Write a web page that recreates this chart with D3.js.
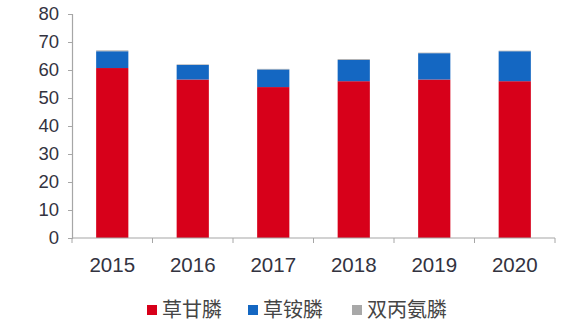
<!DOCTYPE html>
<html>
<head>
<meta charset="utf-8">
<script src="https://cdn.jsdelivr.net/npm/d3@7/dist/d3.min.js"></script>
<style>
  html, body { margin: 0; padding: 0; background: #ffffff; }
  svg { display: block; font-family: "Liberation Sans", Arial, "Noto Sans CJK SC", sans-serif; }
</style>
</head>
<body>
<svg id="chart" width="572" height="336"></svg>
<script>
// Annual output by product (万吨)
const years = ["2015", "2016", "2017", "2018", "2019", "2020"];
const glyphosate   = [60.7, 56.6, 53.9, 56.0, 56.6, 56.0]; // 草甘膦
const glufosinate  = [6.0, 5.2, 6.3, 7.6, 9.4, 10.7];     // 草铵膦
const bialaphos    = [0.3, 0.2, 0.2, 0.3, 0.2, 0.2];      // 双丙氨膦
const seriesNames  = ["草甘膦", "草铵膦", "双丙氨膦"];
const yTicks       = [0, 10, 20, 30, 40, 50, 60, 70, 80];

const colors = ["#d7001a", "#1467c2", "#a8a8a8"];

const rows = years.map((y, i) => ({
  year: y,
  "草甘膦": glyphosate[i],
  "草铵膦": glufosinate[i],
  "双丙氨膦": bialaphos[i]
}));
const stacked = d3.stack().keys(seriesNames)(rows);

const svg = d3.select("#chart");
const margin = { left: 72, right: 17, top: 14, bottom: 98 };
const W = 572, H = 336;

const x = d3.scaleBand().domain(years)
  .range([margin.left, W - margin.right])
  .paddingInner(0.6).paddingOuter(0.3);
const y = d3.scaleLinear().domain([0, 80])
  .range([H - margin.bottom, margin.top]);

const axisColor = "#a6a6a6";
const textColor = "#33333f";

// bars
svg.append("g").selectAll("g").data(stacked).join("g")
  .attr("fill", (d, i) => colors[i])
  .selectAll("rect").data(d => d).join("rect")
  .attr("x", d => x(d.data.year))
  .attr("width", x.bandwidth())
  .attr("y", d => y(d[1]))
  .attr("height", d => y(d[0]) - y(d[1]));

// y axis
const yAxis = svg.append("g")
  .attr("transform", `translate(${margin.left},0)`)
  .call(d3.axisLeft(y).tickValues(yTicks).tickSize(4).tickPadding(9));
yAxis.select(".domain").attr("stroke", axisColor).attr("stroke-width", 1.2);
yAxis.selectAll(".tick line").attr("stroke", axisColor);
yAxis.selectAll("text").attr("fill", textColor).attr("font-size", 18.5);

// x axis with ticks at band boundaries
const xAxisG = svg.append("g")
  .attr("transform", `translate(0,${y(0)})`);
const xr = x.range();
xAxisG.append("line")
  .attr("x1", xr[0]).attr("x2", xr[1])
  .attr("stroke", axisColor).attr("stroke-width", 1.2);
const step = (xr[1] - xr[0]) / years.length;
xAxisG.selectAll("line.tk").data(d3.range(years.length + 1)).join("line")
  .attr("class", "tk")
  .attr("x1", i => xr[0] + i * step).attr("x2", i => xr[0] + i * step)
  .attr("y1", 0).attr("y2", 5)
  .attr("stroke", axisColor);
xAxisG.selectAll("text").data(years).join("text")
  .attr("x", d => x(d) + x.bandwidth() / 2)
  .attr("y", 34)
  .attr("text-anchor", "middle")
  .attr("fill", textColor)
  .attr("font-size", 20.5)
  .text(d => d);

// legend
const legendX = [147, 248, 352];
const legend = svg.append("g").attr("transform", "translate(0,310)");
seriesNames.forEach((name, i) => {
  legend.append("rect")
    .attr("x", legendX[i]).attr("y", -5)
    .attr("width", 10).attr("height", 10)
    .attr("fill", colors[i]);
  legend.append("text")
    .attr("x", legendX[i] + 15).attr("y", 0)
    .attr("dy", "0.36em")
    .attr("fill", "#454545")
    .attr("font-size", 20)
    .attr("font-family", "'Noto Sans CJK SC', sans-serif")
    .text(name);
});
</script>
</body>
</html>
